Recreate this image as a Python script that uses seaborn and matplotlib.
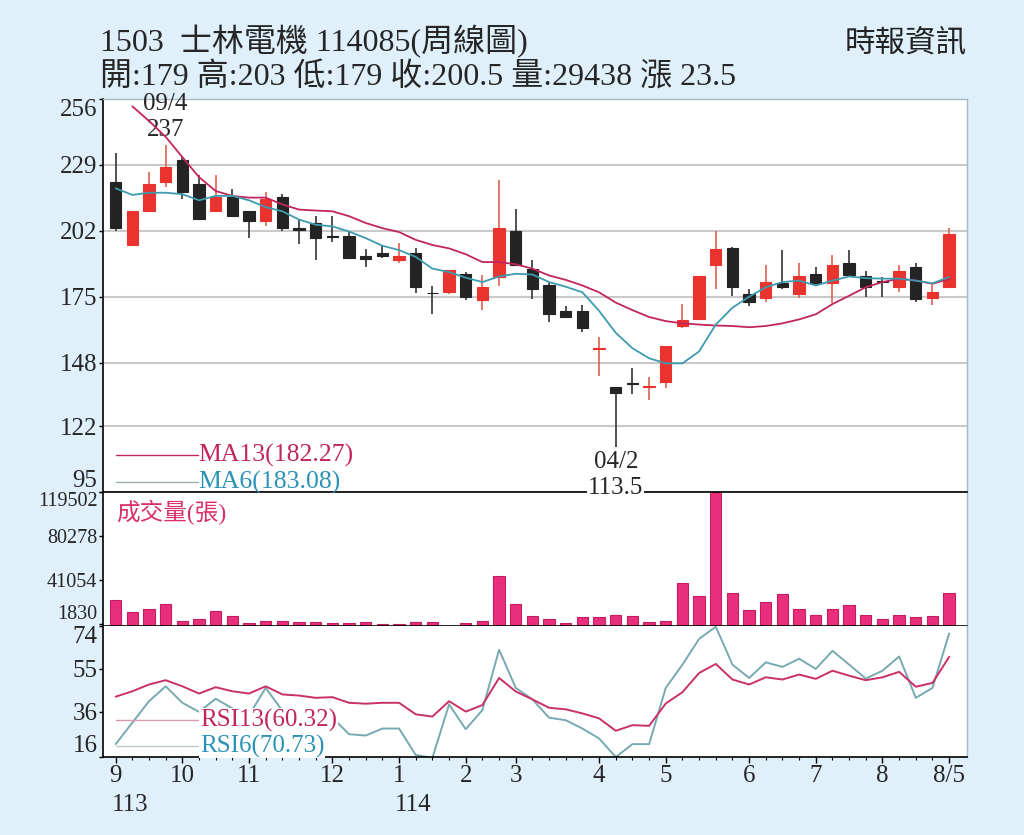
import numpy as np
import pandas as pd
import seaborn as sns
import matplotlib.pyplot as plt
from matplotlib.transforms import blended_transform_factory

# weekly candles 2024/09 .. 2025/08/05 (1503 士林電機)
opens = [222, 196, 210, 222, 231, 221, 210, 216, 210, 206,
         216, 203, 205, 199.6, 200, 191.5, 193, 190, 193, 176.6,
         177, 184.5, 173.5, 183, 202, 186.5, 180, 169, 169, 153.5,
         138, 139.6, 138, 140, 163, 166, 188, 195, 176, 174.5,
         180.5, 176, 184.5, 180.5, 189, 183.5, 181.5, 179, 187, 174.5,
         179]
highs = [234, 210, 226, 237, 232.5, 225, 225, 219, 210, 218,
         217, 207, 208, 208, 201.5, 194.5, 196, 197, 195, 179.5,
         186, 185, 184, 223, 211, 190, 180.5, 171, 171.5, 158.5,
         138, 146, 142, 155, 172, 183.5, 202, 195.5, 178, 188,
         194, 189, 187, 192, 194, 185.5, 183, 188, 189, 180,
         203]
lows = [202, 196, 210, 220, 215, 207, 210, 208, 199, 204,
        202, 196.5, 190, 197.5, 191, 187, 191, 189, 176.5, 168,
        176, 173.5, 169.5, 179.5, 188, 174, 164.5, 166.5, 160.5, 142.5,
        113.5, 135, 132.5, 137.5, 162, 165.5, 178, 175.5, 171, 173,
        178, 174.5, 180, 172.5, 183.5, 175, 175, 177, 173, 171.5,
        179]
closes = [203, 210, 221, 228, 218, 207, 216, 208, 206, 215,
          203, 202.5, 199, 199.4, 191, 190.5, 191.5, 191.5, 179, 176.4,
          186, 175, 179, 203, 188, 178, 168, 166.5, 162, 154,
          135.5, 139.4, 138.2, 155, 165.5, 183.5, 194.5, 179, 173, 181,
          179, 183.5, 180.5, 188, 184, 179, 181, 185.5, 174, 177,
          200.5]
volume = [22960, 12530, 15470, 19390, 4500, 6020, 13420, 8690, 2990, 4500,
          4500, 3880, 3880, 2450, 2720, 3350, 2000, 2100, 3610, 3880,
          0, 2450, 4240, 44350, 19390, 8690, 6560, 2990, 8070, 8070,
          9590, 8690, 3350, 4240, 38380, 26790, 119502, 29470, 14040, 21440,
          28840, 15470, 9590, 14930, 19040, 9590, 6020, 9590, 8070, 9230,
          29438]
ma13 = [np.nan, 253, 247, 240.5, 232.2, 224, 218.3, 216.3, 215.6, 215.6,
        212.8, 210.7, 210.3, 210, 208, 205.2, 203.1, 201.5, 198.3, 196.2,
        194.8, 192.4, 189.2, 189.2, 188.3, 186.5, 183.7, 181.9, 179.6, 176.8,
        172.6, 169.5, 166.7, 165, 164.1, 163.6, 163.2, 163, 162.5, 163,
        164.1, 165.7, 167.8, 172, 175.4, 178.9, 181, 182.4, 181.6, 180.3,
        182.27]
ma6 = [219.4, 216.7, 217.6, 217.6, 217, 214.5, 216.3, 216.3, 214.5, 211.7,
       210, 206.6, 204.5, 203.8, 201.7, 199, 195.9, 194.1, 191.3, 186.5,
       185.1, 182.8, 181, 183.3, 184.4, 184.1, 181, 179.1, 176.8, 169.2,
       160.2, 153.9, 149.8, 147.7, 147.7, 152.6, 163.6, 170.5, 175, 178.9,
       181, 181.6, 179.6, 181.6, 183.3, 182.6, 182.4, 182.4, 181.6, 180.5,
       183.08]
rsi13 = [42.7, 45.1, 48.1, 50, 47.3, 44.1, 46.9, 45.1, 44.1, 47.3,
         43.7, 43.2, 42.2, 42.5, 40, 39.6, 40, 40, 34.9, 33.9,
         40.7, 36.1, 39, 51, 45, 41.5, 37.8, 37.1, 35.3, 33.1,
         27.6, 30.1, 29.8, 39.7, 44.7, 53.2, 57.2, 50.3, 48.1, 51.3,
         50.3, 52.5, 50.6, 54.2, 52, 50, 51.3, 53.7, 47.1, 48.8,
         60.32]
rsi6 = [21.7, 31.2, 40.7, 47.3, 40, 36, 41.8, 37.5, 34.5, 46.6,
        36.5, 35, 34, 33.4, 26.1, 25.5, 28.6, 28.6, 16.9, 15.6,
        39.3, 28.3, 36.8, 63.5, 46.6, 41.5, 33.4, 32.3, 28.6, 24.2,
        16, 21.7, 21.7, 46.6, 56.9, 68.3, 73.7, 56.9, 51, 57.9,
        55.9, 59.5, 55, 63, 56.9, 50.7, 54.2, 60.5, 42.2, 46.6,
        70.73]

month_pos = [0, 4, 8, 13, 17, 21, 24, 29, 33, 38, 42, 46, 50]
month_labels = ["9", "10", "11", "12", "1", "2", "3", "4", "5", "6", "7", "8", "8/5"]
year_pos = [0, 17]
year_labels = ["113", "114"]
price_ticks = [95, 122, 148, 175, 202, 229, 256]
vol_ticks = [1830, 41054, 80278, 119502]
rsi_ticks = [16, 36, 55, 74]

RED = "#e8332e"
BLACK = "#242424"
MA13_C = "#c2255c"
MA6_C = "#3d9bb0"
VOL_C = "#e92f7c"
RSI13_C = "#c9306a"
RSI6_C = "#76aab0"
BG = "#dff0fb"

sns.set_theme(style="white")
plt.rcParams["font.family"] = ["Liberation Serif", "Noto Sans CJK TC"]

weeks = np.arange(len(closes))
df = pd.DataFrame({"week": weeks, "open": opens, "high": highs, "low": lows,
                   "close": closes, "volume": volume, "ma13": ma13, "ma6": ma6,
                   "rsi13": rsi13, "rsi6": rsi6})
up = df["close"] >= df["open"]
cols = np.where(up, RED, BLACK)
wick_cols = np.where(up, "#e0604f", "#333333")

fig = plt.figure(figsize=(10.24, 8.35), dpi=100, facecolor=BG)
L, W = 103 / 1024, 864 / 1024
axp = fig.add_axes([L, 1 - 492 / 835, W, 393 / 835])
axv = fig.add_axes([L, 1 - 626 / 835, W, 134 / 835])
axr = fig.add_axes([L, 1 - 757 / 835, W, 131 / 835])
axp.set_zorder(3)

# price panel
axp.vlines(df["week"], df["low"], df["high"], colors=wick_cols, lw=1.2, zorder=2)
axp.bar(df["week"], np.maximum((df["close"] - df["open"]).abs(), 0.3),
        bottom=np.minimum(df["open"], df["close"]), width=0.68,
        color=cols, edgecolor=cols, linewidth=0.8, zorder=3)
sns.lineplot(data=df, x="week", y="ma13", color=MA13_C, linewidth=1.3,
             estimator=None, errorbar=None, ax=axp, zorder=4)
sns.lineplot(data=df, x="week", y="ma6", color=MA6_C, linewidth=1.3,
             estimator=None, errorbar=None, ax=axp, zorder=4)
axp.set_ylim(95, 256)
axp.set_yticks(price_ticks, [str(t) for t in price_ticks])
axp.grid(axis="y", color="#c9c9c9", lw=1.5)
axp.set_axisbelow(True)

axp.annotate("237", xy=(3, 237), xytext=(0, 11), textcoords="offset points",
             ha="center", va="center", fontsize=18)
axp.annotate("09/4", xy=(3, 237), xytext=(0, 30), textcoords="offset points",
             ha="center", va="center", fontsize=18)
axp.annotate("04/2", xy=(30, 113.5), xytext=(0, -11), textcoords="offset points",
             ha="center", va="center", fontsize=18)
axp.annotate("113.5", xy=(30, 113.5), xytext=(0, -29.5), textcoords="offset points",
             ha="center", va="center", fontsize=18,
             bbox=dict(facecolor="white", edgecolor="none", pad=0.5))

axp.plot([0.0156, 0.11], [0.094, 0.094], color=MA13_C, lw=1, transform=axp.transAxes)
axp.plot([0.0156, 0.11], [0.025, 0.025], color="#9ab0b0", lw=1, transform=axp.transAxes)
axp.text(0.11, 0.094, "MA13(182.27)", color=MA13_C, fontsize=18.5,
         va="center", ha="left", transform=axp.transAxes)
axp.text(0.11, 0.025, "MA6(183.08)", color="#2a92b5", fontsize=18.5,
         va="center", ha="left", transform=axp.transAxes)

# volume panel
sns.barplot(data=df, x="week", y="volume", native_scale=True, width=0.68,
            color=VOL_C, saturation=1, edgecolor="#c41d62", linewidth=0.8,
            errorbar=None, ax=axv)
axv.set_ylim(0, 119502)
axv.set_yticks(vol_ticks, [str(t) for t in vol_ticks])
axv.text(0.015, 0.851, "成交量(張)", color="#d8306a", fontsize=17,
         va="center", ha="left", transform=axv.transAxes,
         family=["Liberation Serif", "Noto Sans CJK TC"])

# RSI panel
sns.lineplot(data=df, x="week", y="rsi13", color=RSI13_C, linewidth=1.4,
             estimator=None, errorbar=None, ax=axr, zorder=3)
sns.lineplot(data=df, x="week", y="rsi6", color=RSI6_C, linewidth=1.4,
             estimator=None, errorbar=None, ax=axr, zorder=2)
axr.set_ylim(16, 74)
axr.set_yticks(rsi_ticks, [str(t) for t in rsi_ticks])
axr.plot([0.015, 0.112], [0.282, 0.282], color="#d99aae", lw=1, transform=axr.transAxes, zorder=4)
axr.plot([0.015, 0.112], [0.084, 0.084], color="#bccaca", lw=1, transform=axr.transAxes, zorder=4)
axr.text(0.112, 0.282, "RSI13(60.32)", color=MA13_C, fontsize=18, va="center", ha="left",
         transform=axr.transAxes, zorder=5,
         bbox=dict(facecolor="white", edgecolor="none", pad=0.5))
axr.text(0.112, 0.084, "RSI6(70.73)", color="#2a92b5", fontsize=18, va="center", ha="left",
         transform=axr.transAxes, zorder=5,
         bbox=dict(facecolor="white", edgecolor="none", pad=0.5))

axr.set_xticks(month_pos, month_labels)
axr.set_xticks(weeks, minor=True)
axr.tick_params(axis="x", which="major", length=4, width=1, direction="out",
                bottom=True, labelsize=18, pad=2, color="black")
axr.tick_params(axis="x", which="minor", length=2.2, width=0.8, direction="out",
                bottom=True, color="black")
trans = blended_transform_factory(axr.transData, axr.transAxes)
for p, lab in zip(year_pos, year_labels):
    axr.text(p - 0.25, -0.366, lab, transform=trans, fontsize=18, ha="left", va="center")

for ax in (axp, axv, axr):
    ax.set_facecolor("white")
    ax.set_xlim(-0.76, 51.07)
    ax.set_xlabel("")
    ax.set_ylabel("")
    ax.tick_params(axis="y", length=3, width=1, direction="out", left=True,
                   labelsize=18, pad=1, color="black")
    for s in ("top", "right"):
        ax.spines[s].set_color("#a9bac6")
        ax.spines[s].set_linewidth(1)
    for s in ("left", "bottom"):
        ax.spines[s].set_color("black")
        ax.spines[s].set_linewidth(1.2)
    labs = ax.get_yticklabels()
    labs[0].set_va("bottom")
    labs[-1].set_va("top")
for ax in (axp, axv):
    ax.tick_params(axis="x", bottom=False, labelbottom=False)
axv.spines["top"].set_visible(False)
axr.spines["top"].set_visible(False)
axv.tick_params(axis="y", labelsize=14.5)

fig.text(100 / 1024, 1 - 42 / 835, "1503  士林電機 114085(周線圖)", fontsize=23,
         va="center", ha="left")
fig.text(100 / 1024, 1 - 78 / 835, "開:179 高:203 低:179 收:200.5 量:29438 漲 23.5",
         fontsize=23, va="center", ha="left")
fig.text(967 / 1024, 1 - 44 / 835, "時報資訊", fontsize=22, va="center", ha="right",
         family=["Noto Sans CJK TC"], color="#222222")

fig.savefig("out.png", dpi=100, facecolor=BG)
